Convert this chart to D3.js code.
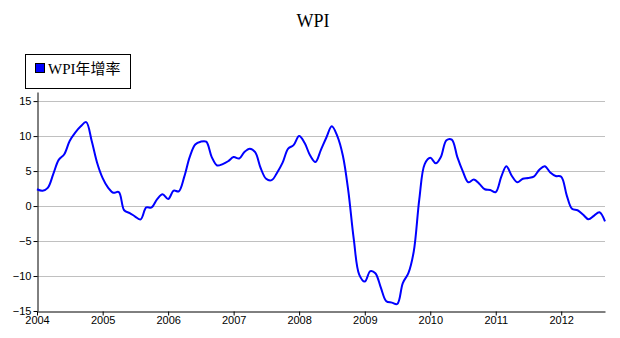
<!DOCTYPE html>
<html>
<head>
<meta charset="utf-8">
<script src="https://cdn.jsdelivr.net/npm/d3@7"></script>
<style>
body{margin:0;background:#fff;}
svg{display:block;}
</style>
</head>
<body>
<div id="chart"></div>
<script>
// monthly WPI year-on-year growth (%), Jan 2004 .. Sep 2012
var firstMonth = "2004-01";
var wpi = [
	2.4, 2.2, 2.6, 4.6, 6.6, 7.4, 9.3, 10.5, 11.4, 12.0, 9.3, 6.2,
	4.0, 2.6, 1.9, 2.0, -0.6, -1.0, -1.5, -1.9, -0.2, -0.2, 1.0, 1.7,
	1.0, 2.2, 2.1, 4.2, 7.0, 8.8, 9.2, 9.2, 7.0, 5.8, 6.0, 6.4,
	7.0, 6.8, 7.7, 8.2, 7.7, 5.4, 3.9, 3.7, 4.8, 6.2, 8.2, 8.7,
	10.0, 9.0, 7.3, 6.3, 8.0, 9.8, 11.4, 10.0, 7.2, 2.2, -4.8, -9.8,
	-10.8, -9.3, -9.6, -11.7, -13.6, -13.8, -14.0, -11.0, -9.6, -6.5, 1.0, 6.0,
	6.9, 6.1, 7.0, 9.4, 9.5, 7.0, 5.0, 3.4, 3.8, 3.2, 2.4, 2.3,
	2.0, 4.2, 5.7, 4.3, 3.4, 3.9, 4.0, 4.2, 5.2, 5.7, 4.8, 4.3,
	4.2, 1.5, -0.4, -0.6, -1.2, -1.9, -1.4, -0.9, -2.2
];
var yTicks = [-15, -10, -5, 0, 5, 10, 15];
var xTickYears = [2004, 2005, 2006, 2007, 2008, 2009, 2010, 2011, 2012];
var title = "WPI";
var seriesName = "WPI年增率";

var width = 620, height = 338;
var mLeft = 37, mRight = 605, mTop = 92, mBottom = 311;

var parseMonth = d3.timeParse("%Y-%m");
var start = parseMonth(firstMonth);
var data = wpi.map(function(v, i){
	return {date: d3.timeMonth.offset(start, i), val: v};
});

var x = d3.scaleTime().domain([start, data[data.length-1].date]).range([mLeft, mRight]);
var y = d3.scaleLinear().domain([-15, 16.3]).range([mBottom, mTop]);

var svg = d3.select("#chart").append("svg").attr("width", width).attr("height", height);

svg.append("text").attr("x", 313).attr("y", 27).text(title)
	.attr("text-anchor", "middle")
	.style("font-family", "'Liberation Serif', serif")
	.style("font-size", "18px")
	.attr("fill", "#000");

// gridlines
svg.append("g").selectAll("line").data(yTicks.filter(function(d){return d > -15})).enter().append("line")
	.attr("x1", mLeft).attr("x2", mRight)
	.attr("y1", function(d){return Math.round(y(d)) + 0.5})
	.attr("y2", function(d){return Math.round(y(d)) + 0.5})
	.attr("stroke", "#c0c0c0").attr("stroke-width", 1);

// y axis
var yAxis = svg.append("g").attr("transform", "translate(" + (mLeft + 0.5) + ",0)")
	.call(d3.axisLeft(y).tickValues(yTicks).tickSize(4).tickPadding(2).tickSizeOuter(0));
// x axis
var xAxis = svg.append("g").attr("transform", "translate(0," + (mBottom + 0.5) + ")")
	.call(d3.axisBottom(x).tickValues(xTickYears.map(function(d){return new Date(d, 0, 1)}))
		.tickFormat(d3.timeFormat("%Y")).tickSize(4).tickPadding(1).tickSizeOuter(0));

[yAxis, xAxis].forEach(function(g){
	g.selectAll("text").style("font-family", "'Liberation Sans', Arial, sans-serif").style("font-size", "11px").attr("fill", "#000");
	g.selectAll("line,path").attr("stroke", "#000");
});

var line = d3.line()
	.x(function(d){return x(d.date)})
	.y(function(d){return y(d.val)})
	.curve(d3.curveCatmullRom.alpha(0.5));

svg.append("path").datum(data).attr("d", line)
	.attr("fill", "none").attr("stroke", "#0000ff").attr("stroke-width", 2);

// legend
var lg = svg.append("g");
lg.append("rect").attr("x", 25.5).attr("y", 54.5).attr("width", 105).attr("height", 34)
	.attr("fill", "#fff").attr("stroke", "#000");
lg.append("rect").attr("x", 35.5).attr("y", 63.5).attr("width", 9).attr("height", 9)
	.attr("fill", "#0000ff").attr("stroke", "#000");
lg.append("text").attr("x", 48).attr("y", 74).text(seriesName)
	.style("font-family", "'Liberation Serif', 'Noto Sans CJK TC', serif")
	.style("font-size", "15px")
	.attr("fill", "#000");
</script>
</body>
</html>
